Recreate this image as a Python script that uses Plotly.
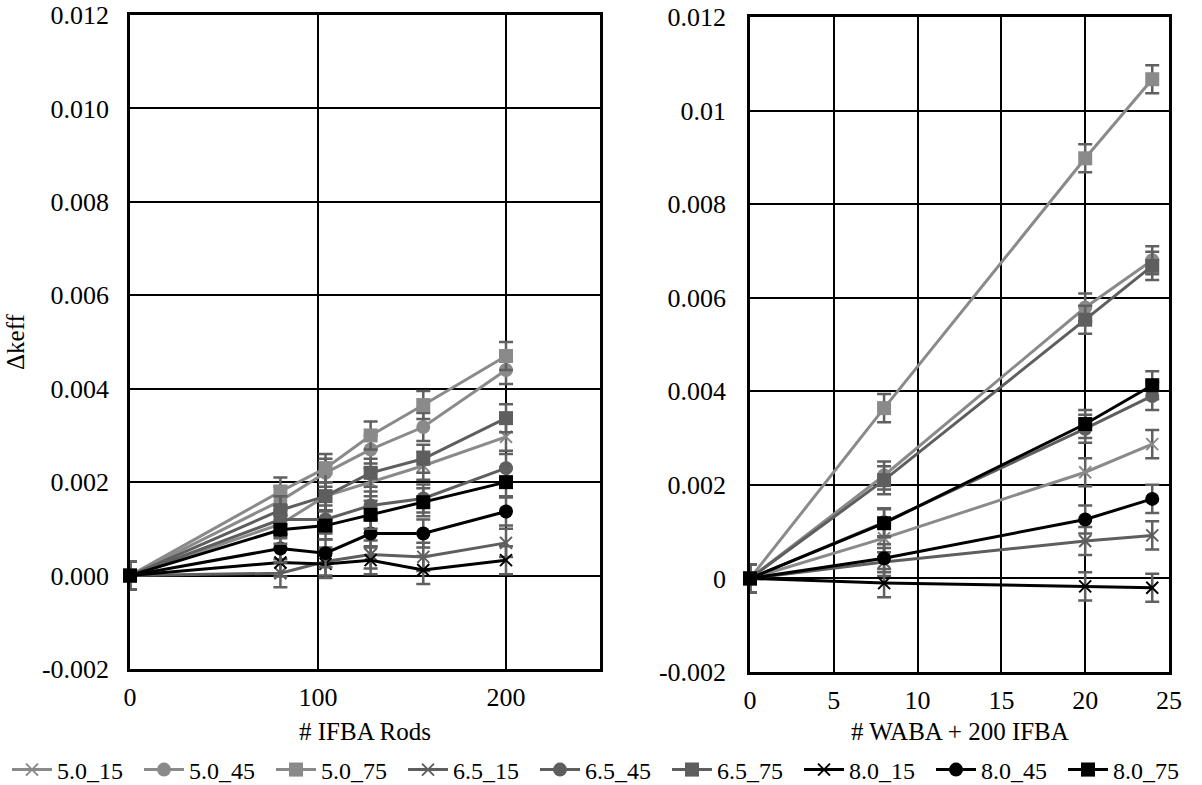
import plotly.graph_objects as go

# ---- data -------------------------------------------------------------
ifba_rods = [0, 80, 104, 128, 156, 200]
waba_rods = [0, 8, 20, 24]

series_names = ["5.0_15", "5.0_45", "5.0_75",
                "6.5_15", "6.5_45", "6.5_75",
                "8.0_15", "8.0_45", "8.0_75"]

# Δkeff vs number of IFBA rods
ifba_5_0_15 = [0, 0.00110, 0.00170, 0.00200, 0.00235, 0.00297]
ifba_5_0_45 = [0, 0.00160, 0.00220, 0.00270, 0.00318, 0.00440]
ifba_5_0_75 = [0, 0.00180, 0.00230, 0.00300, 0.00365, 0.00470]
ifba_6_5_15 = [0, 0.00005, 0.00030, 0.00045, 0.00040, 0.00070]
ifba_6_5_45 = [0, 0.00120, 0.00120, 0.00150, 0.00165, 0.00230]
ifba_6_5_75 = [0, 0.00140, 0.00170, 0.00220, 0.00250, 0.00337]
ifba_8_0_15 = [0, 0.00028, 0.00025, 0.00033, 0.00012, 0.00033]
ifba_8_0_45 = [0, 0.00058, 0.00048, 0.00090, 0.00090, 0.00137]
ifba_8_0_75 = [0, 0.00098, 0.00107, 0.00130, 0.00157, 0.00200]

# Δkeff vs number of WABA rods (with 200 IFBA)
waba_5_0_15 = [0, 0.00086, 0.00227, 0.00287]
waba_5_0_45 = [0, 0.00220, 0.00579, 0.00680]
waba_5_0_75 = [0, 0.00364, 0.00898, 0.01067]
waba_6_5_15 = [0, 0.00035, 0.00080, 0.00092]
waba_6_5_45 = [0, 0.00120, 0.00320, 0.00390]
waba_6_5_75 = [0, 0.00210, 0.00553, 0.00668]
waba_8_0_15 = [0, -0.00010, -0.00017, -0.00020]
waba_8_0_45 = [0, 0.00043, 0.00126, 0.00170]
waba_8_0_75 = [0, 0.00118, 0.00330, 0.00413]

uncertainty = 0.0003  # ± statistical uncertainty on each Δkeff

ifba_series = [ifba_5_0_15, ifba_5_0_45, ifba_5_0_75,
               ifba_6_5_15, ifba_6_5_45, ifba_6_5_75,
               ifba_8_0_15, ifba_8_0_45, ifba_8_0_75]
waba_series = [waba_5_0_15, waba_5_0_45, waba_5_0_75,
               waba_6_5_15, waba_6_5_45, waba_6_5_75,
               waba_8_0_15, waba_8_0_45, waba_8_0_75]

y_ticks = [-0.002, 0.0, 0.002, 0.004, 0.006, 0.008, 0.010, 0.012]
left_y_text = ["-0.002", "0.000", "0.002", "0.004", "0.006", "0.008", "0.010", "0.012"]
right_y_text = ["-0.002", "0", "0.002", "0.004", "0.006", "0.008", "0.01", "0.012"]
left_x_ticks = [0, 100, 200]
right_x_ticks = [0, 5, 10, 15, 20, 25]

# ---- styling ----------------------------------------------------------
enrich_colors = {"5.0": "#8a8a8a", "6.5": "#5e5e5e", "8.0": "#000000"}
symbols = {"15": "x-thin", "45": "circle", "75": "square"}
err_color = "#606060"
FONT = "Times New Roman, Liberation Serif, serif"
W, H = 1202, 785

fig = go.Figure()


def add_series(xs, ys, name, xa, ya, show):
    enr, conc = name.split("_")
    col = enrich_colors[enr]
    sym = symbols[conc]
    marker = dict(symbol=sym, size=14 if sym != "x-thin" else 12, color=col)
    if sym == "x-thin":
        marker["line"] = dict(color=col, width=2)
    fig.add_trace(go.Scatter(
        x=xs, y=ys, name=name, mode="lines+markers",
        xaxis=xa, yaxis=ya, legendgroup=name, showlegend=show,
        line=dict(color=col, width=3),
        marker=marker,
        error_y=dict(type="constant", value=uncertainty, color=err_color,
                     thickness=2.5, width=7),
        cliponaxis=False,
    ))


for name, ys in zip(series_names, ifba_series):
    add_series(ifba_rods, ys, name, "x", "y", True)
for name, ys in zip(series_names, waba_series):
    add_series(waba_rods, ys, name, "x2", "y2", False)

# plot area positions in pixels
L_X0, L_X1, L_Y0, L_Y1 = 130, 600, 15, 669
R_X0, R_X1, R_Y0, R_Y1 = 750, 1169, 17, 672


def xdom(a, b):
    return [a / W, b / W]


def ydom(top, bottom):
    return [(H - bottom) / H, (H - top) / H]


axis_common = dict(
    showline=True, linecolor="black", linewidth=2.5, mirror=True,
    showgrid=True, gridcolor="black", gridwidth=1.5,
    zeroline=False, ticks="", automargin=False,
    tickfont=dict(family=FONT, size=26, color="black"),
)

fig.update_layout(
    width=W, height=H,
    margin=dict(l=0, r=0, t=0, b=0, autoexpand=False),
    paper_bgcolor="white", plot_bgcolor="white",
    font=dict(family=FONT, color="black"),
    xaxis=dict(domain=xdom(L_X0, L_X1), anchor="y", range=[0, 250],
               tickvals=left_x_ticks, ticklabelstandoff=3, **axis_common),
    yaxis=dict(domain=ydom(L_Y0, L_Y1), anchor="x", range=[-0.002, 0.012],
               tickvals=y_ticks, ticktext=left_y_text, ticklabelstandoff=13,
               **axis_common),
    xaxis2=dict(domain=xdom(R_X0, R_X1), anchor="y2", range=[0, 25],
                tickvals=right_x_ticks, ticklabelstandoff=3, **axis_common),
    yaxis2=dict(domain=ydom(R_Y0, R_Y1), anchor="x2", range=[-0.002, 0.012],
                tickvals=y_ticks, ticktext=right_y_text, ticklabelstandoff=16,
                **axis_common),
    legend=dict(orientation="h", x=0.5, xanchor="center",
                y=(H - 770) / H, yanchor="middle",
                font=dict(family=FONT, size=24, color="black"),
                entrywidth=77, itemwidth=40,
                bgcolor="rgba(0,0,0,0)"),
    showlegend=True,
)

# axis titles
title_font = dict(family=FONT, size=25, color="black")
fig.add_annotation(text="Δkeff", xref="paper", yref="paper",
                   x=15 / W, y=(H - 342) / H, textangle=-90, showarrow=False,
                   xanchor="center", yanchor="middle", font=title_font)
fig.add_annotation(text="# IFBA Rods", xref="paper", yref="paper",
                   x=(L_X0 + L_X1) / 2 / W, y=(H - 731) / H, showarrow=False,
                   xanchor="center", yanchor="middle", font=title_font)
fig.add_annotation(text="# WABA + 200 IFBA", xref="paper", yref="paper",
                   x=(R_X0 + R_X1) / 2 / W, y=(H - 731) / H, showarrow=False,
                   xanchor="center", yanchor="middle", font=title_font)

fig.write_html("out.html")
